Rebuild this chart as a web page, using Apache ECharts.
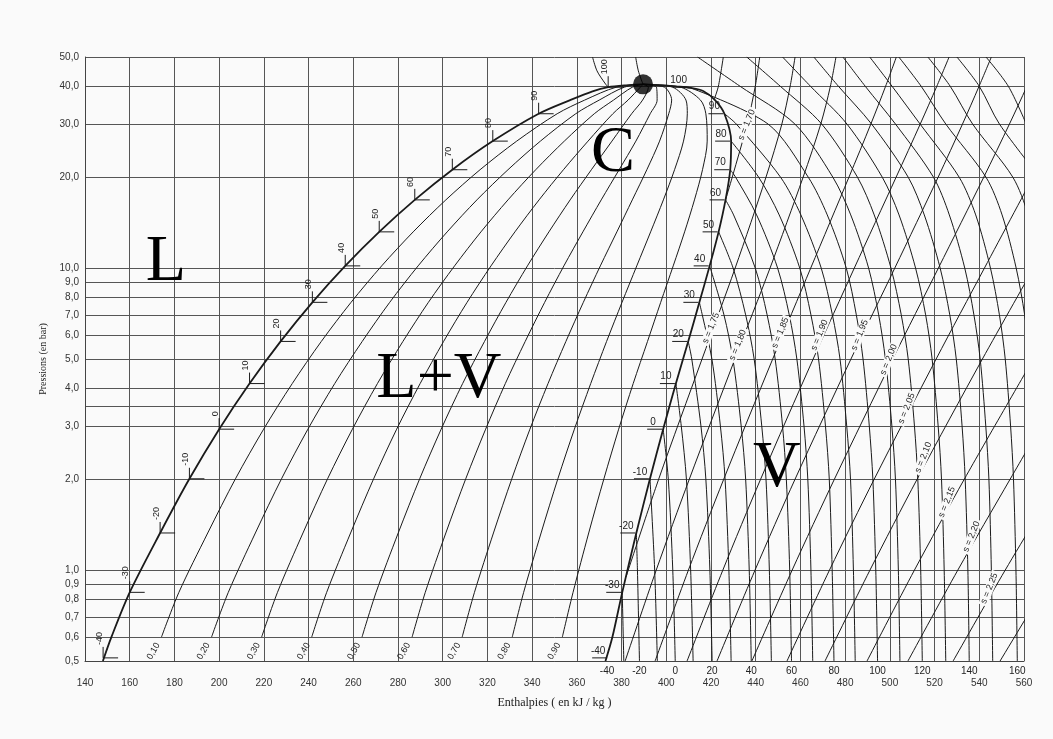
<!DOCTYPE html>
<html>
<head>
<meta charset="utf-8">
<script src="https://cdn.jsdelivr.net/npm/echarts@6.0.0/dist/echarts.min.js"></script>
<style>
  html, body { margin: 0; padding: 0; background: #fafafa; }
  #chart { width: 1053px; height: 739px; }
</style>
</head>
<body>
<div id="chart"></div>
<script>
const n = null;

// saturation dome (pressure in bar, enthalpy in kJ/kg)
const liqP = [0.5, 0.6, 0.844, 1.327, 2.006, 2.928, 4.146, 5.717, 7.702, 10.17, 13.18, 16.82, 21.17, 26.33, 32.44, 36.0, 38.5, 39.72, 40.3, 40.59];
const liqH = [148.0, 151.8, 160.0, 173.6, 186.7, 200.0, 213.6, 227.5, 241.7, 256.4, 271.6, 287.5, 304.3, 322.4, 342.9, 357.0, 367.0, 374.0, 382.0, 389.6];
const vapP = [40.59, 40.3, 39.9, 39.5, 38.6, 36.0, 32.44, 26.33, 21.17, 16.82, 13.18, 10.17, 7.702, 5.717, 4.146, 2.928, 2.006, 1.327, 0.844, 0.6, 0.5];
const vapH = [389.6, 396.0, 405.0, 411.0, 416.5, 421.8, 426.0, 429.0, 428.6, 426.5, 423.4, 419.4, 414.8, 409.8, 404.3, 398.6, 392.7, 386.6, 380.3, 375.9, 372.8];
const critPoint = [389.6, 40.59];

// isotherm marks on the dome
const tickT = [-40, -30, -20, -10, 0, 10, 20, 30, 40, 50, 60, 70, 80, 90, 100];
const tickP = [0.512, 0.844, 1.327, 2.006, 2.928, 4.146, 5.717, 7.702, 10.17, 13.18, 16.82, 21.17, 26.33, 32.44, 39.72];
const tickHl = [148.1, 160.0, 173.6, 186.7, 200.0, 213.6, 227.5, 241.7, 256.4, 271.6, 287.5, 304.3, 322.4, 342.9, 374.0];
const tickHv = [374.0, 380.3, 386.6, 392.7, 398.6, 404.3, 409.8, 414.8, 419.4, 423.4, 426.5, 428.6, 429.0, 426.0, 410.0];

// vapour quality lines
const qualP = [0.6, 0.844, 1.327, 2.006, 2.928, 4.146, 5.717, 7.702, 10.17, 13.18, 16.82, 21.17, 26.33, 32.44, 36.0, 39.72, 40.59];
const qualLabels = ['0,10', '0,20', '0,30', '0,40', '0,50', '0,60', '0,70', '0,80', '0,90'];
const qualH = [
  [174.2, 182.0, 194.9, 207.3, 219.9, 232.7, 245.7, 259.0, 272.7, 286.8, 301.4, 316.7, 333.1, 351.2, 363.5, 377.6, 389.6],
  [196.6, 204.1, 216.2, 227.9, 239.7, 251.7, 264.0, 276.3, 289.0, 302.0, 315.3, 329.2, 343.7, 359.5, 370.0, 381.2, 389.6],
  [219.0, 226.1, 237.5, 248.5, 259.6, 270.8, 282.2, 293.6, 305.3, 317.1, 329.2, 341.6, 354.4, 367.8, 376.4, 384.8, 389.6],
  [241.4, 248.1, 258.8, 269.1, 279.4, 289.9, 300.4, 310.9, 321.6, 332.3, 343.1, 354.0, 365.0, 376.1, 382.9, 388.4, 389.6],
  [263.9, 270.2, 280.1, 289.7, 299.3, 308.9, 318.7, 328.3, 337.9, 347.5, 357.0, 366.5, 375.7, 384.5, 389.4, 392.0, 389.6],
  [286.3, 292.2, 301.4, 310.3, 319.2, 328.0, 336.9, 345.6, 354.2, 362.7, 370.9, 378.9, 386.4, 392.8, 395.9, 395.6, 389.6],
  [308.7, 314.2, 322.7, 330.9, 339.0, 347.1, 355.1, 362.9, 370.5, 377.9, 384.8, 391.3, 397.0, 401.1, 402.4, 399.2, 389.6],
  [331.1, 336.2, 344.0, 351.5, 358.9, 366.2, 373.3, 380.2, 386.8, 393.0, 398.7, 403.7, 407.7, 409.4, 408.8, 402.8, 389.6],
  [353.5, 358.3, 365.3, 372.1, 378.7, 385.2, 391.6, 397.5, 403.1, 408.2, 412.6, 416.2, 418.3, 417.7, 415.3, 406.4, 389.6]
];

// isotherms in the vapour region
const isoP = [50, 40, 30, 20, 15, 10, 7, 5, 3, 2, 1, 0.5];
const isoT = [-30, -20, -10, 0, 10, 20, 30, 40, 50, 60, 70, 80, 90, 100, 110, 120, 130, 140, 150, 160, 170, 180, 190, 200];
const isoH = [
  [n, n, n, n, n, n, n, n, n, n, n, 381.0],
  [n, n, n, n, n, n, n, n, n, n, 387.1, 388.0],
  [n, n, n, n, n, n, n, n, n, n, 394.8, 396.0],
  [n, n, n, n, n, n, n, n, n, 400.9, 402.9, 404.0],
  [n, n, n, n, n, n, n, n, 406.7, 409.0, 410.9, 412.0],
  [n, n, n, n, n, n, n, 411.4, 415.5, 417.7, 419.5, 420.5],
  [n, n, n, n, n, n, 416.1, 420.4, 424.2, 426.3, 428.0, 429.0],
  [n, n, n, n, n, n, 425.8, 429.8, 433.5, 435.5, 437.1, 438.0],
  [n, n, n, n, n, 429.9, 435.5, 439.3, 442.7, 444.6, 446.1, 447.0],
  [n, n, n, n, 430.1, 439.8, 445.1, 448.7, 452.0, 453.7, 455.2, 456.0],
  [n, n, n, 431.0, 440.4, 449.8, 455.0, 458.4, 461.6, 463.3, 464.7, 465.5],
  [n, n, n, 441.3, 450.5, 459.7, 464.7, 468.1, 471.2, 472.9, 474.2, 475.0],
  [n, n, 431.3, 451.1, 460.2, 469.3, 474.3, 477.7, 480.7, 482.4, 483.7, 484.5],
  [n, n, 445.5, 463.5, 472.0, 480.5, 485.0, 488.0, 490.8, 492.4, 493.7, 494.5],
  [414.0, 433.0, 457.5, 474.5, 482.5, 490.5, 495.0, 498.0, 500.9, 502.5, 503.8, 504.5],
  [436.0, 451.0, 469.5, 485.5, 493.0, 500.5, 505.1, 508.2, 511.0, 512.5, 513.8, 514.5],
  [452.0, 464.5, 480.8, 496.6, 504.1, 511.5, 516.0, 518.9, 521.6, 523.1, 524.3, 525.0],
  [466.0, 477.0, 491.8, 508.2, 515.4, 522.5, 526.8, 529.7, 532.3, 533.7, 534.9, 535.5],
  [479.0, 489.0, 502.5, 519.5, 526.6, 533.5, 537.6, 540.4, 542.9, 544.3, 545.4, 546.0],
  [491.0, 501.0, 513.5, 531.0, 538.4, 545.0, 549.0, 551.6, 554.0, 555.3, 556.4, 557.0],
  [504.0, 514.0, 525.0, 543.0, 550.2, 556.5, 560.3, 562.8, 565.1, n, n, n],
  [517.0, 527.0, 537.0, 555.0, 561.9, 568.0, n, n, n, n, n, n],
  [530.0, 540.0, 549.0, 567.0, n, n, n, n, n, n, n, n],
  [543.0, 553.0, 561.0, n, n, n, n, n, n, n, n, n]
];
// temperature labels under the vapour isotherms
const botT = [-40, -20, 0, 20, 40, 60, 80, 100, 120, 140, 160];
const botH = [373.5, 388.0, 404.0, 420.5, 438.0, 456.0, 475.0, 494.5, 514.5, 535.5, 557.0];

// liquid side pieces near the critical point
const liq100P = [50, 45, 41, 39.72];
const liq100H = [367.0, 369.0, 372.5, 374.0];
const critIsoP = [50, 45, 40.59];
const critIsoH = [386.3, 387.5, 389.6];

// isentropes (kJ/kg.K)
const isenS = ['1,65', '1,70', '1,75', '1,80', '1,85', '1,90', '1,95', '2,00', '2,05', '2,10', '2,15', '2,20', '2,25', '2,30'];
const isenP = [0.5, 1, 2, 5, 10, 20, 30, 40, 50];
const isenStartP = [36.3, 16.82, 0.95, n, n, n, n, n, n, n, n, n, n, n];
const isenStartH = [421.5, 426.5, 382.0, n, n, n, n, n, n, n, n, n, n, n];
const isenH = [
  [n, n, n, n, n, n, n, 423.3, 425.5],
  [n, n, n, n, n, 429.5, 436.2, 439.8, 441.8],
  [n, n, 396.6, 416.0, 430.8, 444.6, 451.7, 455.4, 457.6],
  [381.6, 395.5, 410.3, 430.7, 446.4, 461.2, 469.1, 473.4, 475.9],
  [395.0, 409.9, 425.7, 447.6, 464.6, 481.7, 491.5, 498.1, 502.9],
  [409.3, 425.3, 442.2, 465.7, 484.1, 502.8, 513.6, 521.0, 526.5],
  [422.7, 439.7, 457.6, 482.6, 502.2, 521.6, 532.5, 539.9, 545.4],
  [438.3, 456.3, 475.2, 501.3, 521.7, 542.0, 553.5, 561.3, 567.0],
  [454.0, 473.0, 493.0, 520.7, 542.3, 564.0, n, n, n],
  [471.0, 491.1, 512.2, 541.4, 564.3, n, n, n, n],
  [489.8, 511.0, 533.3, 564.2, n, n, n, n, n],
  [508.1, 530.4, 553.8, 585.0, n, n, n, n, n],
  [528.3, 551.6, 576.0, n, n, n, n, n, n],
  [549.3, 573.8, n, n, n, n, n, n, n]
];
// where the "s = ..." labels sit
const isenLabelIdx = [1, 2, 3, 4, 5, 6, 7, 8, 9, 10, 11, 12];
const isenLabelP = [29.8, 6.33, 5.56, 6.1, 6.0, 6.0, 4.98, 3.43, 2.36, 1.68, 1.29, 0.87];
const isenLabelH = [436.0, 420.0, 432.0, 451.0, 468.5, 486.5, 499.5, 507.5, 515.0, 525.5, 536.5, 544.5];

// region letters
const regionText = ['L', 'L+V', 'V', 'C'];
const regionH = [176.2, 298.3, 449.5, 376.2];
const regionP = [10.4, 4.27, 2.16, 24.0];

const yLabelVals = [0.5, 0.6, 0.7, 0.8, 0.9, 1, 2, 3, 4, 5, 6, 7, 8, 9, 10, 20, 30, 40, 50];
const yGridVals = [0.5, 0.6, 0.7, 0.8, 0.9, 1, 2, 3, 3.5, 4, 5, 6, 7, 8, 9, 10, 20, 30, 40, 50];

const INK = '#1a1a1a';
const BG = '#fafafa';
const SANS = 'Liberation Sans';
const SERIF = 'Liberation Serif';

function pairs(hs, ps) {
  return hs.map((h, i) => [h, ps[i]]);
}

function curve(name, pts, width) {
  return {
    name: name,
    type: 'line',
    data: pts,
    showSymbol: false,
    smooth: 0.3,
    silent: true,
    clip: true,
    lineStyle: { color: INK, width: width || 1 },
    z: 3
  };
}

function txt(x, y, text, size, extra) {
  return Object.assign({
    type: 'text',
    x: x,
    y: y,
    style: {
      text: text,
      fontSize: size,
      fontFamily: SANS,
      fill: '#222',
      align: 'center',
      verticalAlign: 'middle',
      textAlign: 'center',
      textVerticalAlign: 'middle'
    }
  }, extra || {});
}

const series = [];

// dome
series.push(curve('saturation', pairs(liqH, liqP).concat(pairs(vapH, vapP).slice(1)), 1.8));

qualH.forEach((row, i) => series.push(curve('x' + qualLabels[i], pairs(row, qualP), 1)));

isoT.forEach((t, i) => {
  const pts = [];
  const j = tickT.indexOf(t);
  if (j >= 0) pts.push([tickHv[j], tickP[j]]);
  isoH[i].forEach((h, k) => { if (h !== null) pts.push([h, isoP[k]]); });
  series.push(curve('T' + t, pts, 1));
});

series.push(curve('T100 liq', pairs(liq100H, liq100P), 1));
series.push(curve('Tc', pairs(critIsoH, critIsoP), 1));

isenS.forEach((s, i) => {
  const pts = [];
  if (isenStartH[i] !== null) pts.push([isenStartH[i], isenStartP[i]]);
  isenH[i].forEach((h, k) => { if (h !== null) pts.push([h, isenP[k]]); });
  series.push(curve('s' + s, pts, 1));
});

// isotherm marks, liquid side
series.push({
  type: 'custom',
  name: 'liquid marks',
  data: pairs(tickHl, tickP),
  silent: true,
  z: 6,
  renderItem: (params, api) => {
    const p = api.coord([api.value(0), api.value(1)]);
    const label = txt(p[0] - 4, p[1] - 13, String(tickT[params.dataIndex]), 9, { rotation: Math.PI / 2 });
    label.style.align = 'left';
    label.style.textAlign = 'left';
    return {
      type: 'group',
      children: [
        { type: 'line', shape: { x1: p[0], y1: p[1], x2: p[0] + 15, y2: p[1] }, style: { stroke: INK, lineWidth: 1 } },
        { type: 'line', shape: { x1: p[0], y1: p[1], x2: p[0], y2: p[1] - 11 }, style: { stroke: INK, lineWidth: 1 } },
        label
      ]
    };
  }
});

// isotherm marks, vapour side
series.push({
  type: 'custom',
  name: 'vapour marks',
  data: pairs(tickHv, tickP),
  silent: true,
  z: 6,
  renderItem: (params, api) => {
    const p = api.coord([api.value(0), api.value(1)]);
    return {
      type: 'group',
      children: [
        { type: 'line', shape: { x1: p[0] - 16, y1: p[1], x2: p[0] - 1, y2: p[1] }, style: { stroke: INK, lineWidth: 1 } },
        txt(p[0] - 10, p[1] - 7, String(tickT[params.dataIndex]), 10)
      ]
    };
  }
});

// quality labels at the foot of each line
series.push({
  type: 'custom',
  name: 'quality labels',
  data: qualH.map(row => [row[0], qualP[0]]),
  silent: true,
  z: 6,
  renderItem: (params, api) => {
    const p = api.coord([api.value(0), api.value(1)]);
    return txt(p[0] - 8, p[1] + 14, qualLabels[params.dataIndex], 9, { rotation: 60 * Math.PI / 180 });
  }
});

// isentrope labels
series.push({
  type: 'custom',
  name: 'entropy labels',
  data: pairs(isenLabelH, isenLabelP),
  silent: true,
  z: 7,
  renderItem: (params, api) => {
    const p = api.coord([api.value(0), api.value(1)]);
    const el = txt(p[0], p[1], 's = ' + isenS[isenLabelIdx[params.dataIndex]], 9, { rotation: 68 * Math.PI / 180 });
    el.style.backgroundColor = BG;
    el.style.padding = [0, 2];
    return el;
  }
});

// temperatures along the bottom
series.push({
  type: 'custom',
  name: 'bottom temps',
  data: botH.map(h => [h, 0.5]),
  silent: true,
  z: 6,
  renderItem: (params, api) => {
    const p = api.coord([api.value(0), api.value(1)]);
    return txt(p[0], p[1] + 10, String(botT[params.dataIndex]), 10);
  }
});

// L, L+V, V, C
series.push({
  type: 'custom',
  name: 'regions',
  data: pairs(regionH, regionP),
  silent: true,
  z: 8,
  renderItem: (params, api) => {
    const p = api.coord([api.value(0), api.value(1)]);
    const el = txt(p[0], p[1], regionText[params.dataIndex], 66);
    el.style.fontFamily = SERIF;
    el.style.fill = '#000';
    return el;
  }
});

series.push({
  type: 'scatter',
  name: 'critical point',
  data: [critPoint],
  symbolSize: 20,
  itemStyle: { color: '#000' },
  silent: true,
  z: 9
});

const chart = echarts.init(document.getElementById('chart'));
chart.setOption({
  backgroundColor: BG,
  animation: false,
  grid: { left: 85, right: 29, top: 57, bottom: 78, containLabel: false, outerBoundsMode: 'none' },
  xAxis: {
    type: 'value',
    min: 140,
    max: 560,
    interval: 20,
    name: 'Enthalpies ( en kJ / kg )',
    nameLocation: 'middle',
    nameGap: 36,
    nameTextStyle: { fontFamily: SERIF, fontSize: 12, color: '#222' },
    axisLine: { show: true, lineStyle: { color: '#444', width: 1 } },
    axisTick: { show: false },
    axisLabel: { margin: 17, fontSize: 10, color: '#333', fontFamily: SANS },
    splitLine: { show: true, lineStyle: { color: '#555', width: 1 } }
  },
  yAxis: {
    type: 'log',
    logBase: 10,
    min: 0.5,
    max: 50,
    name: 'Pressions (en bar)',
    nameLocation: 'middle',
    nameGap: 36,
    nameRotate: 90,
    nameTextStyle: { fontFamily: SERIF, fontSize: 10, color: '#222' },
    axisLine: { show: true, lineStyle: { color: '#444', width: 1 } },
    axisTick: { show: false, customValues: yGridVals },
    axisLabel: {
      customValues: yLabelVals,
      margin: 6,
      fontSize: 10,
      color: '#333',
      fontFamily: SANS,
      formatter: v => Number(v).toFixed(1).replace('.', ',')
    },
    splitLine: { show: true, lineStyle: { color: '#555', width: 1 } }
  },
  series: series
});
</script>
</body>
</html>
